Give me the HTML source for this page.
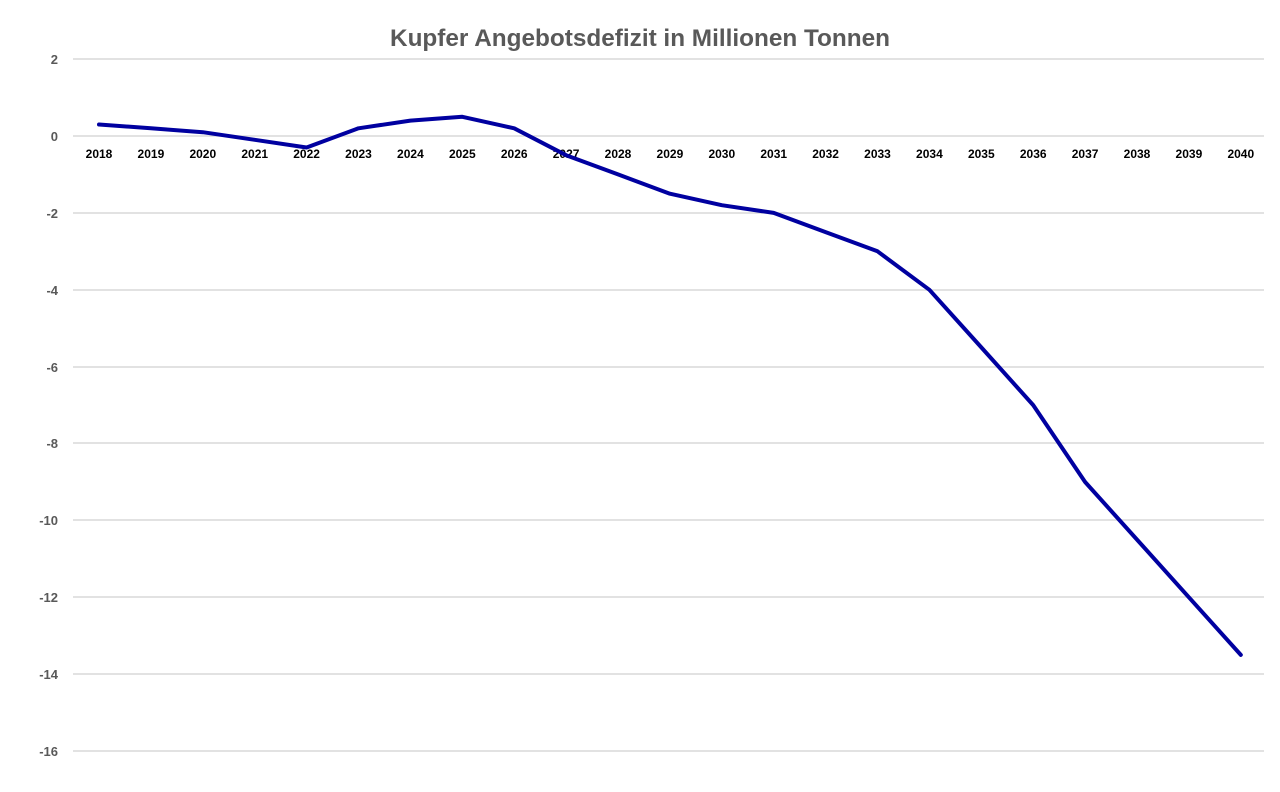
<!DOCTYPE html>
<html><head><meta charset="utf-8"><style>
html,body{margin:0;padding:0;background:#fff;}
svg{display:block;font-family:"Liberation Sans",sans-serif;}
</style></head><body>
<svg width="1280" height="792" viewBox="0 0 1280 792">
<rect width="1280" height="792" fill="#fff"/>
<text x="640" y="46" text-anchor="middle" font-size="24" font-weight="bold" fill="#595959" textLength="500" lengthAdjust="spacingAndGlyphs">Kupfer Angebotsdefizit in Millionen Tonnen</text>
<g stroke="#d9d9d9" stroke-width="1.5">
<line x1="73" x2="1264" y1="59" y2="59"/>
<line x1="73" x2="1264" y1="136" y2="136"/>
<line x1="73" x2="1264" y1="213" y2="213"/>
<line x1="73" x2="1264" y1="290" y2="290"/>
<line x1="73" x2="1264" y1="367" y2="367"/>
<line x1="73" x2="1264" y1="443" y2="443"/>
<line x1="73" x2="1264" y1="520" y2="520"/>
<line x1="73" x2="1264" y1="597" y2="597"/>
<line x1="73" x2="1264" y1="674" y2="674"/>
<line x1="73" x2="1264" y1="751" y2="751"/>
</g>
<g font-size="13" font-weight="bold" fill="#595959" text-anchor="end">
<text x="58" y="64">2</text>
<text x="58" y="141">0</text>
<text x="58" y="218">-2</text>
<text x="58" y="295">-4</text>
<text x="58" y="372">-6</text>
<text x="58" y="448">-8</text>
<text x="58" y="525">-10</text>
<text x="58" y="602">-12</text>
<text x="58" y="679">-14</text>
<text x="58" y="756">-16</text>
</g>
<g font-size="12" font-weight="bold" fill="#000" text-anchor="middle">
<text x="99" y="158">2018</text><text x="150.9" y="158">2019</text><text x="202.8" y="158">2020</text><text x="254.7" y="158">2021</text><text x="306.6" y="158">2022</text><text x="358.5" y="158">2023</text><text x="410.4" y="158">2024</text><text x="462.3" y="158">2025</text><text x="514.2" y="158">2026</text><text x="566.1" y="158">2027</text><text x="618" y="158">2028</text><text x="669.9" y="158">2029</text><text x="721.8" y="158">2030</text><text x="773.7" y="158">2031</text><text x="825.6" y="158">2032</text><text x="877.5" y="158">2033</text><text x="929.4" y="158">2034</text><text x="981.3" y="158">2035</text><text x="1033.2" y="158">2036</text><text x="1085.1" y="158">2037</text><text x="1137" y="158">2038</text><text x="1188.9" y="158">2039</text><text x="1240.8" y="158">2040</text>
</g>
<polyline fill="none" stroke="#0000a0" stroke-width="4" stroke-linejoin="round" stroke-linecap="round" points="99,124.5 150.9,128.3 202.8,132.2 254.7,139.8 306.6,147.5 358.5,128.3 410.4,120.6 462.3,116.8 514.2,128.3 566.1,155.2 618,174.4 669.9,193.7 721.8,205.2 773.7,212.9 825.6,232.1 877.5,251.3 929.4,289.8 981.3,347.4 1033.2,405.1 1085.1,482 1137,539.6 1188.9,597.3 1240.8,654.9"/>
</svg>
</body></html>
